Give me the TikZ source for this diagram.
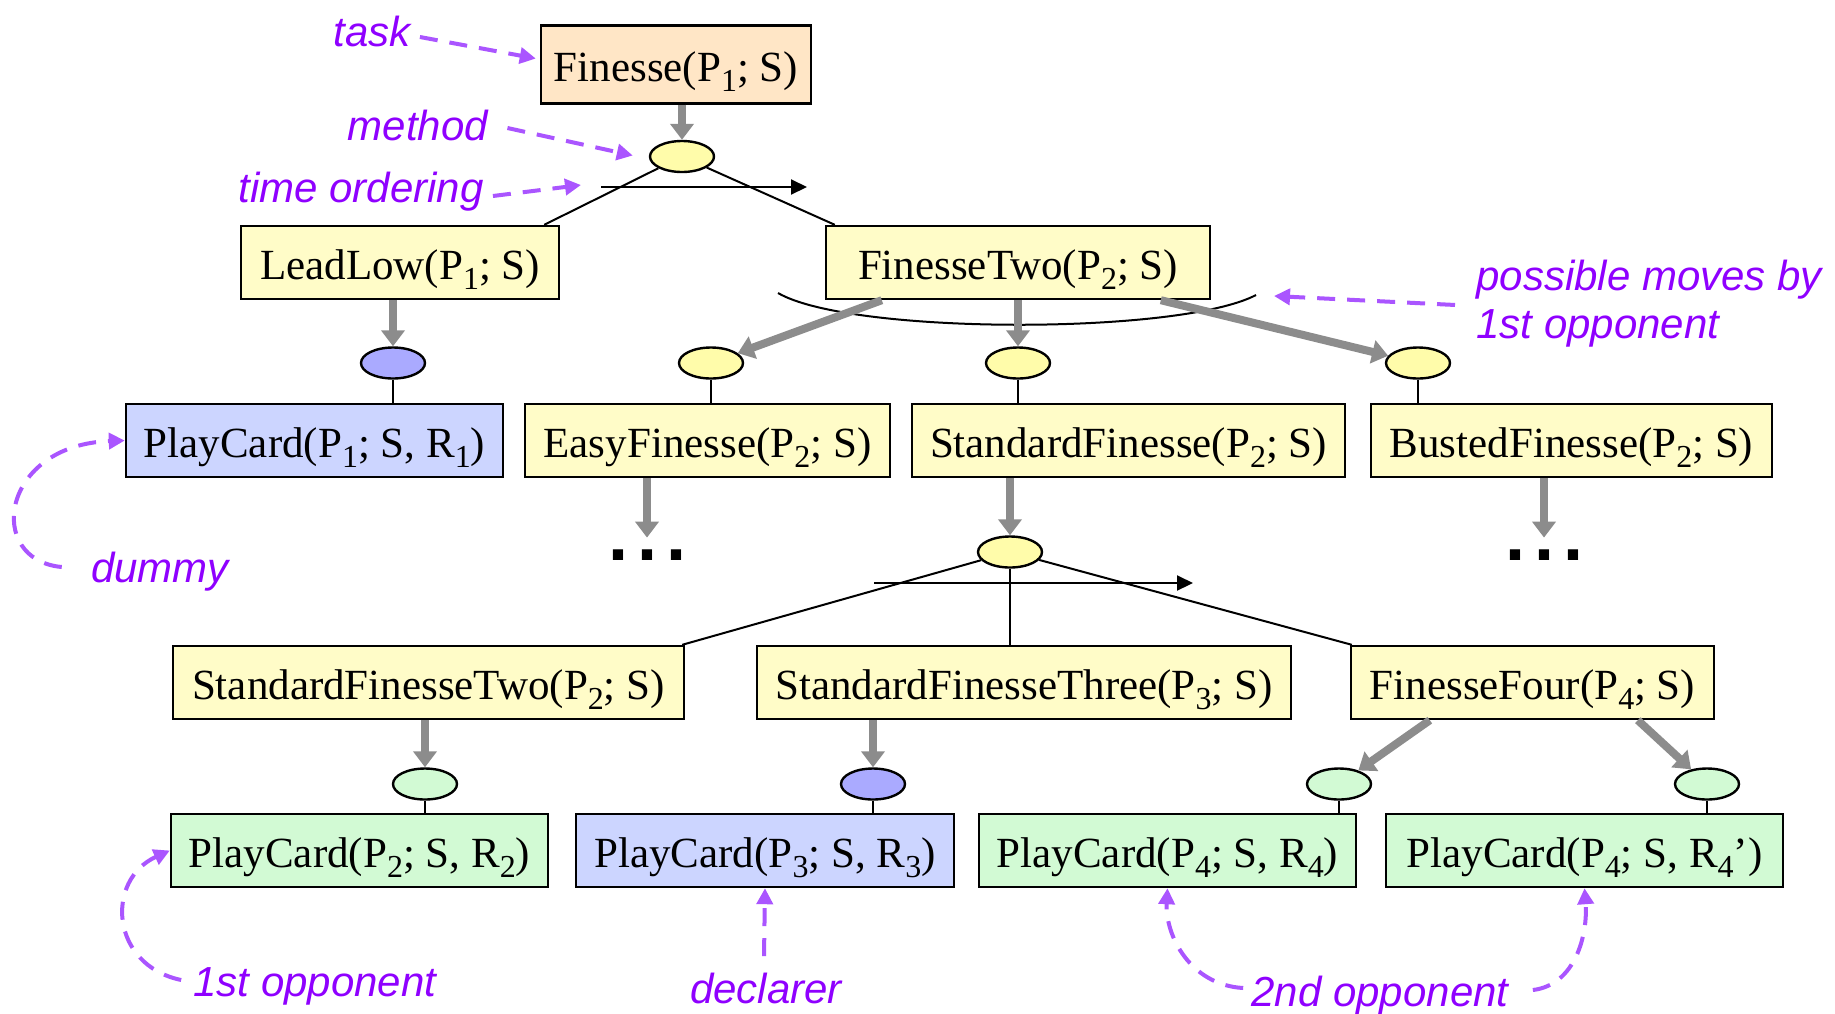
\documentclass[tikz,border=0pt]{standalone}
\usepackage{fontspec}
\setmainfont{Liberation Serif}
\newfontfamily\annfont{Liberation Sans}
\newfontfamily\dotfont{Liberation Sans}
\usetikzlibrary{arrows.meta,calc,shapes.geometric}
\definecolor{peach}{HTML}{FFE6C6}
\definecolor{ybox}{HTML}{FFFCC8}
\definecolor{yell}{HTML}{FFFCAA}
\definecolor{bbox}{HTML}{CCD5FF}
\definecolor{bell}{HTML}{AAAAFF}
\definecolor{gbox}{HTML}{D2FAD4}
\definecolor{annot}{HTML}{8F00FF}
\definecolor{annarrow}{HTML}{AA55FF}
\definecolor{garrow}{HTML}{8C8C8C}
\newcommand\sbs[1]{\raisebox{-5pt}{\fontsize{16}{16}\selectfont #1}}
\begin{document}
\begin{tikzpicture}[x=0.5pt,y=-0.5pt,
  box/.style={draw=black, line width=1.2pt, minimum height=36.5pt, inner sep=0pt,
    text height=20pt, text depth=3.5pt, font=\fontsize{21.5}{25}\selectfont},
  ybx/.style={box, fill=ybox},
  bbx/.style={box, fill=bbox},
  gbx/.style={box, fill=gbox},
  meth/.style={draw=black, line width=1.2pt, ellipse, minimum width=32pt,
    minimum height=15.5pt, inner sep=0pt},
  garr/.style={draw=garrow, line width=4pt, -{Triangle[width=11.5pt,length=8pt]}},
  tline/.style={draw=black, line width=1pt},
  tarr/.style={draw=black, line width=1pt, -{Triangle[width=7.5pt,length=8pt]}},
  ann/.style={text=annot, inner sep=0pt, font=\annfont\itshape\fontsize{21}{24}\selectfont},
  aarr/.style={draw=annarrow, line width=2pt, dash pattern=on 9pt off 6pt,
    -{Triangle[width=8pt,length=8pt]}},
  dotsn/.style={inner sep=0pt, text height=5pt, text depth=0pt,
    font=\dotfont\bfseries\fontsize{36}{36}\selectfont},
]
\useasboundingbox (0,0) rectangle (1835,1013);
\fill[white] (0,0) rectangle (1835,1013);

% arc of possible moves (behind boxes)
\coordinate (arcL) at (778,293);
\coordinate (arcR) at (1256,295);
\draw[tline] (arcL) .. controls (850,335) and (1180,335) .. (arcR);

% boxes
\node[box, fill=peach, minimum width=135pt, minimum height=39pt] (fin) at (676,64.5) {Finesse(P\sbs{1}; S)};
\node[ybx, minimum width=159pt] (leadlow) at (400,262.5) {LeadLow(P\sbs{1}; S)};
\node[ybx, minimum width=192pt] (ftwo) at (1018,262.5) {FinesseTwo(P\sbs{2}; S)};
\node[bbx, minimum width=188.5pt] (pc1) at (314.5,440.5) {PlayCard(P\sbs{1}; S, R\sbs{1})};
\node[ybx, minimum width=182.5pt] (easy) at (707.5,440.5) {EasyFinesse(P\sbs{2}; S)};
\node[ybx, minimum width=216.5pt] (std) at (1128.5,440.5) {StandardFinesse(P\sbs{2}; S)};
\node[ybx, minimum width=200.5pt] (busted) at (1571.5,440.5) {BustedFinesse(P\sbs{2}; S)};
\node[ybx, minimum width=255.5pt] (sf2) at (428.5,682.5) {StandardFinesseTwo(P\sbs{2}; S)};
\node[ybx, minimum width=267pt] (sf3) at (1024,682.5) {StandardFinesseThree(P\sbs{3}; S)};
\node[ybx, minimum width=181.5pt] (f4) at (1532.5,682.5) {FinesseFour(P\sbs{4}; S)};
\node[gbx, minimum width=188.5pt] (pc2) at (359.5,850.5) {PlayCard(P\sbs{2}; S, R\sbs{2})};
\node[bbx, minimum width=189pt] (pc3) at (765,850.5) {PlayCard(P\sbs{3}; S, R\sbs{3})};
\node[gbx, minimum width=188.5pt] (pc4) at (1167.5,850.5) {PlayCard(P\sbs{4}; S, R\sbs{4})};
\node[gbx, minimum width=198.5pt] (pc4p) at (1584.5,850.5) {PlayCard(P\sbs{4}; S, R\sbs{4}’)};

% method ellipses
\node[meth, fill=yell] (m0) at (682,156.5) {};
\node[meth, fill=bell] (mLL) at (393,363) {};
\node[meth, fill=yell] (mE) at (711,363) {};
\node[meth, fill=yell] (mS) at (1018,363) {};
\node[meth, fill=yell] (mB) at (1418,363) {};
\node[meth, fill=yell] (m2) at (1010,552) {};
\node[meth, fill=gbox] (mSF2) at (425,784) {};
\node[meth, fill=bell] (mSF3) at (873,784) {};
\node[meth, fill=gbox] (mF4a) at (1339,784) {};
\node[meth, fill=gbox] (mF4b) at (1707,784) {};

% dots
\node[dotsn] (dotsE) at (647,555) {.\hspace{4.5pt}.\hspace{4.5pt}.};
\node[dotsn] (dotsB) at (1544,555) {.\hspace{4.5pt}.\hspace{4.5pt}.};

% gray arrows
\draw[garr] (m0 |- fin.south) -- (m0);
\draw[garr] (mLL |- leadlow.south) -- (mLL);
\draw[garr] ($(ftwo.south west)+(57,0)$) -- (mE);
\draw[garr] (ftwo.south) -- (mS);
\draw[garr] ($(ftwo.south west)+(336,0)$) -- (mB);
\draw[garr, shorten >=6pt] (dotsE |- easy.south) -- (dotsE);
\draw[garr] (m2 |- std.south) -- (m2);
\draw[garr, shorten >=6pt] (dotsB |- busted.south) -- (dotsB);
\draw[garr] (mSF2 |- sf2.south) -- (mSF2);
\draw[garr] (mSF3 |- sf3.south) -- (mSF3);
\draw[garr] ($(f4.south west)+(80,0)$) -- (mF4a);
\draw[garr] ($(f4.south west)+(288,0)$) -- (mF4b);

% black lines
\draw[tline] (m0) -- ($(leadlow.north east)+(-16,0)$);
\draw[tline] (m0) -- ($(ftwo.north west)+(10,0)$);
\coordinate (t1s) at (601,187);
\coordinate (t1e) at (807,187);
\draw[tarr] (t1s) -- (t1e);
\draw[tline] (mLL) -- (mLL |- pc1.north);
\draw[tline] (mE) -- (mE |- easy.north);
\draw[tline] (mS) -- (mS |- std.north);
\draw[tline] (mB) -- (mB |- busted.north);
\draw[tline] (m2) -- ($(sf2.north east)+(-3,0)$);
\draw[tline] (m2) -- (m2 |- sf3.north);
\draw[tline] (m2) -- ($(f4.north west)+(2,0)$);
\coordinate (t2s) at (874,583);
\coordinate (t2e) at (1193,583);
\draw[tarr] (t2s) -- (t2e);
\draw[tline] (mSF2) -- (mSF2 |- pc2.north);
\draw[tline] (mSF3) -- (mSF3 |- pc3.north);
\draw[tline] (mF4a) -- (mF4a |- pc4.north);
\draw[tline] (mF4b) -- (mF4b |- pc4p.north);

% annotations
\node[ann] (task) at (372,31) {task};
\node[ann] (method) at (418,125) {method};
\node[ann] (timeord) at (361,192) {time ordering};
\node[ann, align=left, anchor=north west] (pm) at (1476,260) {possible moves by\\1st opponent};
\node[ann] (dummy) at (160,572) {dummy};
\node[ann] (opp1) at (315,986) {1st opponent};
\node[ann] (decl) at (766,988) {declarer};
\node[ann] (opp2) at (1380,996) {2nd opponent};

\draw[aarr] ($(task.east)+(9,6)$) -- ($(fin.west)+(-4,-6)$);
\draw[aarr] ($(method.east)+(19,3)$) -- ($(m0.west)+(-16,-1)$);
\draw[aarr] ($(timeord.east)+(9,4)$) -- ($(t1s)+(-20,-2)$);
\draw[aarr] ($(pm.west)+(-21,1)$) -- ($(arcR)+(18,1)$);
\draw[aarr] ($(dummy.west)+(-29,-5)$) .. controls (-15,560) and (0,445) .. (pc1.west);
\draw[aarr] ($(opp1.west)+(-12,-6)$) .. controls (110,965) and (105,880) .. (pc2.west);
\draw[aarr] ($(decl.north)+(-2,-16)$) -- (pc3.south);
\draw[aarr] ($(opp2.west)+(-8,-8)$) .. controls (1190,985) and (1165,935) .. (pc4.south);
\draw[aarr] ($(opp2.east)+(24,-6)$) .. controls (1575,985) and (1588,935) .. (pc4p.south);
\end{tikzpicture}
\end{document}
